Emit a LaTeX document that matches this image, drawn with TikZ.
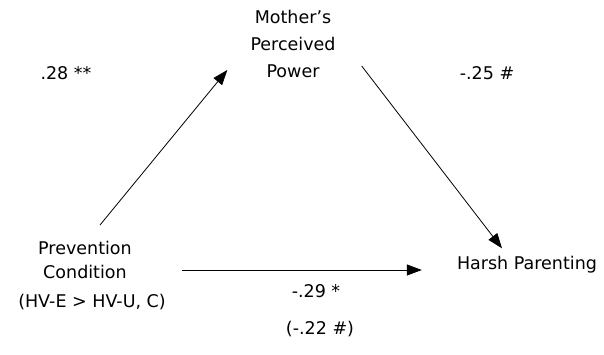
\documentclass[tikz,border=0pt]{standalone}
\usepackage{fontspec}
\setmainfont{DejaVu Sans}
\usetikzlibrary{arrows.meta,calc}
\begin{document}
\begin{tikzpicture}[x=1pt,y=-1pt,
  lbl/.style={font=\fontsize{17.5}{27}\selectfont, inner sep=0pt, align=center},
  arr/.style={-{Triangle[length=15pt,width=11pt]}, line width=0.8pt}]
\useasboundingbox (0,0) rectangle (604,355);
\node[lbl] (m) at (293,44) {Mother’s\\Perceived\\Power};
\node[lbl, font=\fontsize{17.5}{24}\selectfont] (pc) at (85,260) {Prevention\\Condition};
\node[lbl] (hv) at (92,302) {(HV-E > HV-U, C)};
\node[lbl] (hp) at (527,265) {Harsh Parenting};
\node[lbl] (l1) at (66,73) {.28 **};
\node[lbl] (l2) at (487,73) {-.25 \#};
\node[lbl] (l3) at (316,291) {-.29 *};
\node[lbl] (l4) at (320,329) {(-.22 \#)};
\draw[arr] ($(pc.north)+(15,-16)$) -- ($(m.west)+(-23,26)$);
\draw[arr] ($(m.east)+(26,22)$) -- ($(hp.north)+(-25,-8)$);
\draw[arr] ($(pc.east)+(50,10)$) -- ($(hp.west)+(-35,5)$);
\end{tikzpicture}
\end{document}
